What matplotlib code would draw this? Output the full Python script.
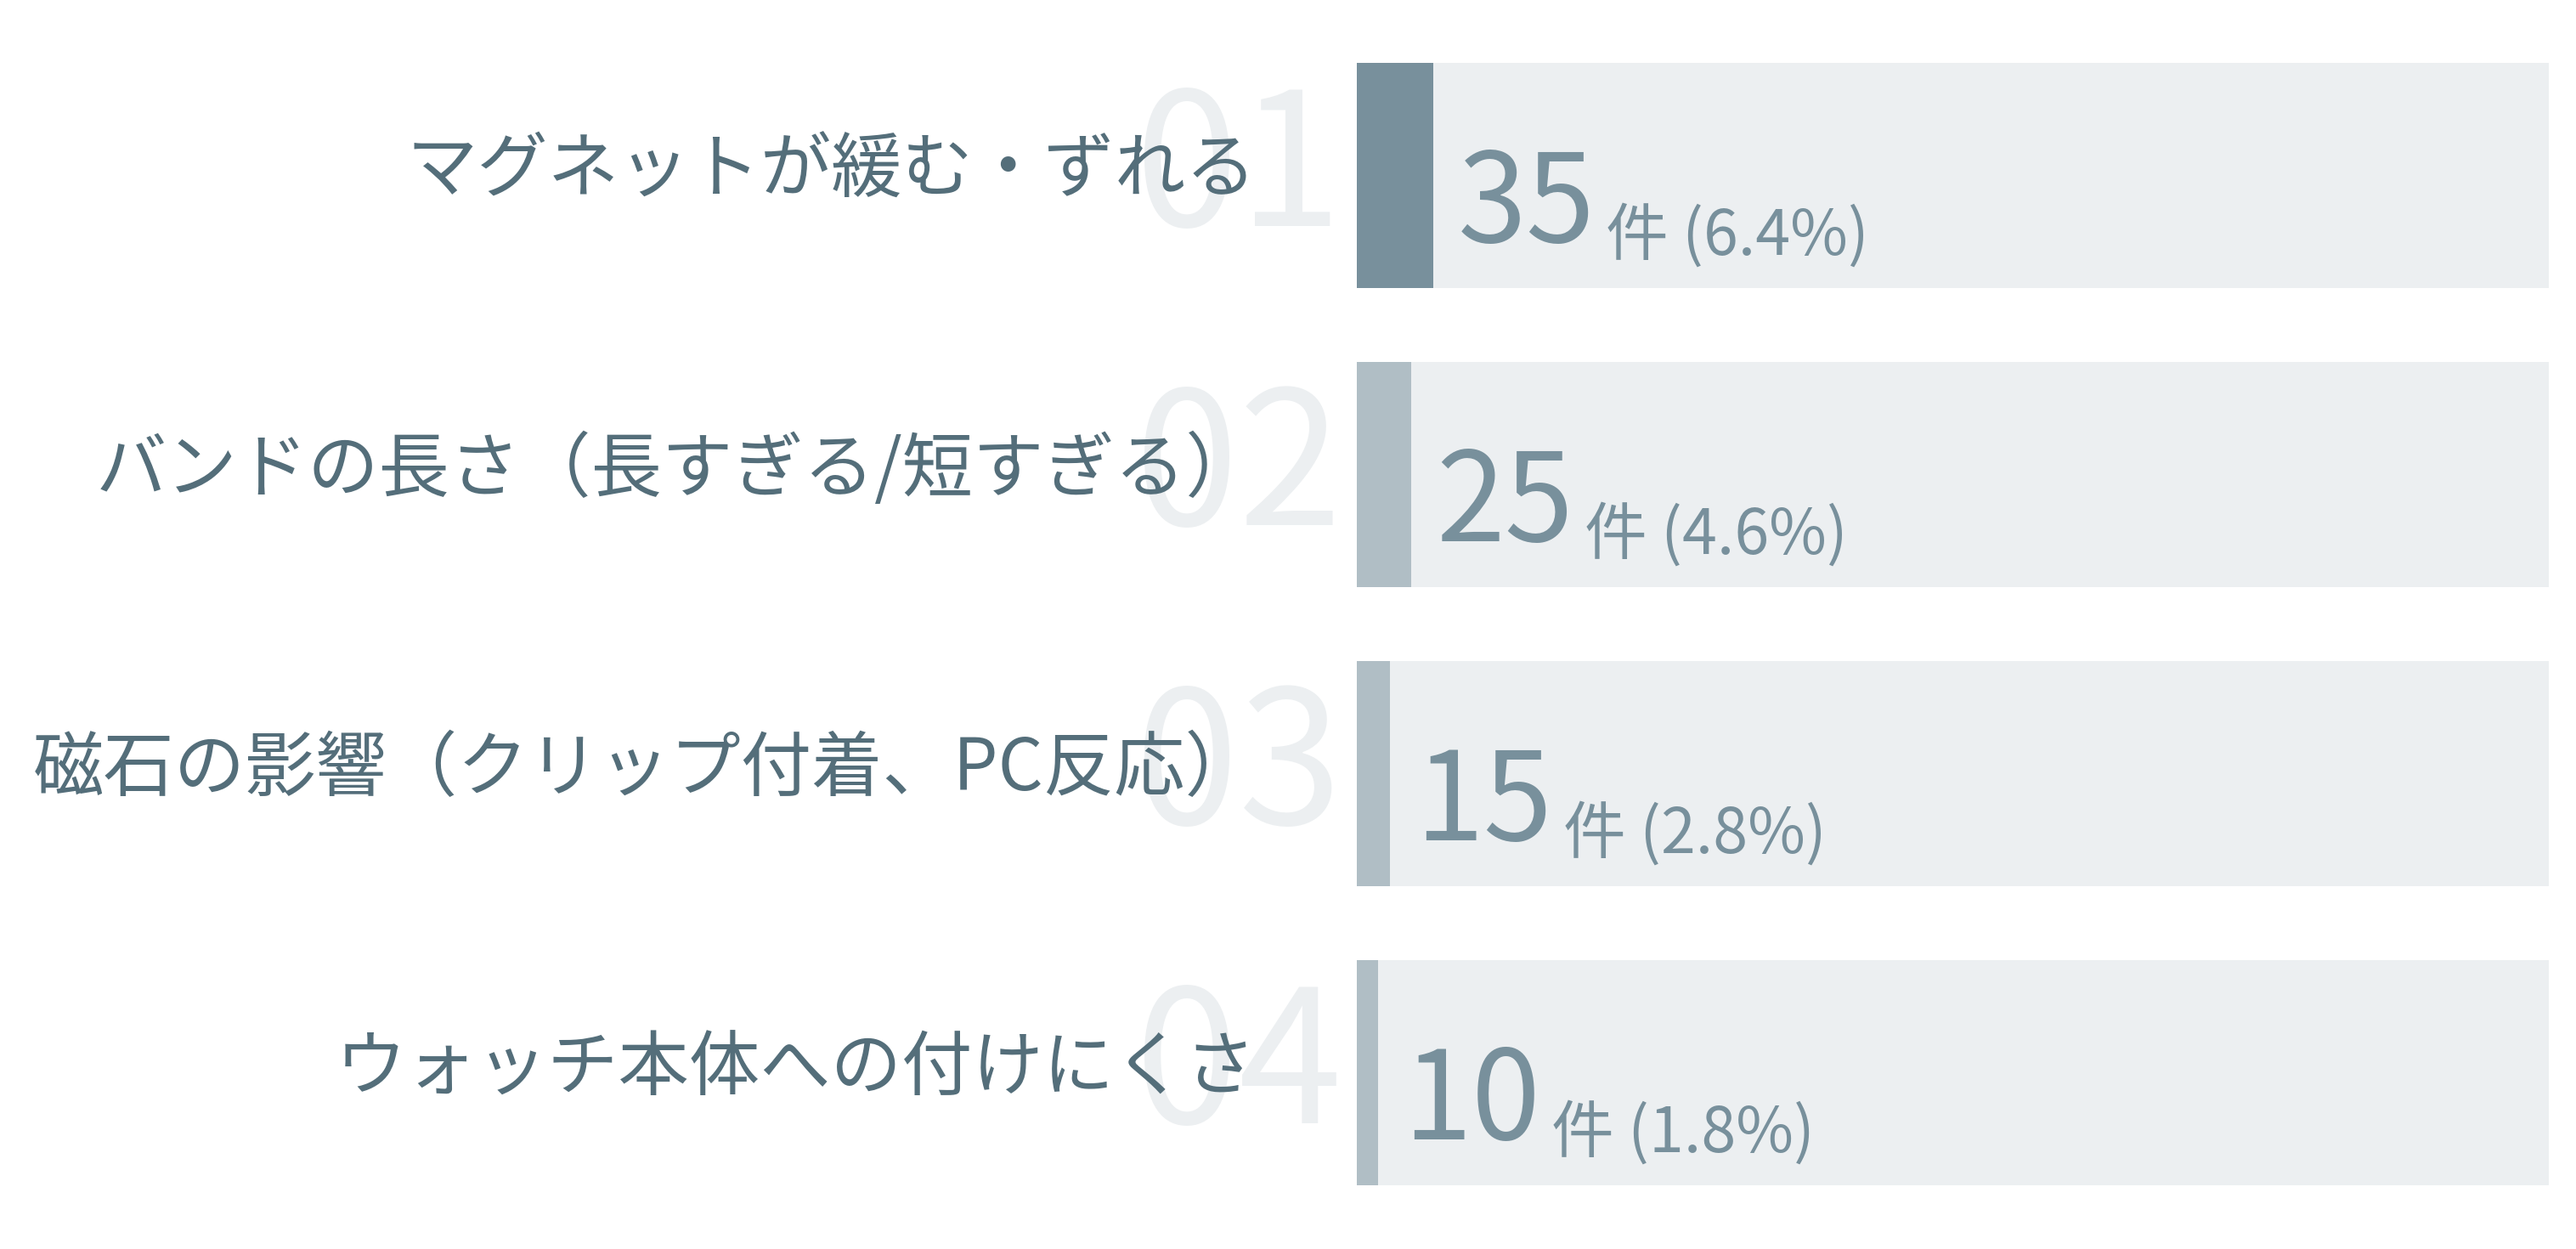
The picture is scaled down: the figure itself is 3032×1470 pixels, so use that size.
import matplotlib
matplotlib.use("Agg")
import matplotlib.pyplot as plt

plt.rcParams['font.family'] = ['Noto Sans CJK JP', 'DejaVu Sans']

categories = ["マグネットが緩む・ずれる",
              "バンドの長さ（長すぎる/短すぎる）",
              "磁石の影響（クリップ付着、PC反応）",
              "ウォッチ本体への付けにくさ"]
counts = [35, 25, 15, 10]
percents = [6.4, 4.6, 2.8, 1.8]
ranks = ["01", "02", "03", "04"]

BG = "#ECEFF1"
DARK = "#78909C"
LIGHT = "#B0BEC5"
LABEL = "#546E7A"

fig = plt.figure(figsize=(30.32, 14.70), dpi=100)
ax = fig.add_axes([0.5267, 0.0513, 0.9894 - 0.5267, 0.950 - 0.0513])
ax.set_xlim(0, 100)
h = 0.753
ax.set_ylim(3 + h / 2, -h / 2)
ax.axis('off')

ys = list(range(len(categories)))
ax.barh(ys, [100] * len(ys), height=h, color=BG, zorder=1)
fills = [DARK if i == 0 else LIGHT for i in ys]
ax.barh(ys, percents, height=h, color=fills, zorder=2)

for i, (cat, c, p, r) in enumerate(zip(categories, counts, percents, ranks)):
    # ghost rank number
    ax.annotate(r, xy=(0, i), xycoords='data', xytext=(-188, -43),
                textcoords='offset points', ha='left', va='baseline',
                fontsize=158, color=BG, zorder=0, annotation_clip=False)
    # category label
    ax.annotate(cat, xy=(0, i), xycoords='data', xytext=(-85, 3),
                textcoords='offset points', ha='right', va='center',
                fontsize=60, color=LABEL, zorder=3, annotation_clip=False)
    # big count
    t = ax.annotate(str(c), xy=(p, i), xycoords='data', xytext=(21, -57),
                    textcoords='offset points', ha='left', va='baseline',
                    fontsize=105, color=DARK, zorder=4, annotation_clip=False)
    ax.annotate(f"件 ({p}%)", xy=(1, i), xycoords=(t, 'data'),
                xytext=(9, -67), textcoords='offset points',
                ha='left', va='baseline', fontsize=53, color=DARK,
                zorder=4, annotation_clip=False)

fig.savefig("out.png", dpi=100, facecolor='white')
